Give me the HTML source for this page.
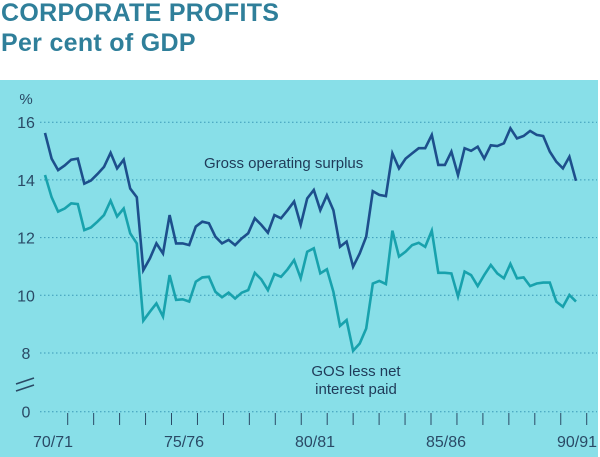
<!DOCTYPE html>
<html><head><meta charset="utf-8"><style>
body{margin:0;width:600px;height:457px;background:#fff;overflow:hidden;font-family:"Liberation Sans",sans-serif;}
.t{position:absolute;left:1px;color:#2f7f9a;font-weight:bold;font-size:25px;letter-spacing:0.3px;white-space:nowrap}
</style></head><body>
<div class="t" style="top:-1px">CORPORATE PROFITS</div>
<div class="t" style="top:29px">Per cent of GDP</div>
<svg id="c" width="600" height="457" style="position:absolute;left:0;top:0"></svg>
<script>
const yTicks=[16,14,12,10,8];
const xLabels=["70/71","75/76","80/81","85/86","90/91"];
const gos=[15.63,14.74,14.34,14.5,14.7,14.74,13.87,13.98,14.2,14.45,14.94,14.4,14.7,13.7,13.4,10.87,11.28,11.8,11.45,12.78,11.8,
11.8,11.74,12.38,12.55,12.5,12.03,11.8,11.92,11.74,11.97,12.15,12.67,12.44,12.17,12.78,12.67,12.95,13.25,12.44,13.36,
13.65,12.95,13.47,12.95,11.68,11.86,10.99,11.45,12.03,13.61,13.48,13.44,14.92,14.4,14.74,14.92,15.1,15.1,15.56,
14.52,14.52,14.98,14.17,15.1,15.01,15.15,14.74,15.2,15.17,15.27,15.79,15.44,15.52,15.7,15.56,15.52,14.98,14.63,14.4,14.8,13.97];
const gosNet=[14.17,13.4,12.9,13.01,13.19,13.16,12.26,12.35,12.55,12.78,13.28,12.73,13.01,12.15,11.8,9.12,9.43,9.72,9.26,10.7,9.84,
9.86,9.78,10.47,10.62,10.64,10.12,9.93,10.09,9.89,10.09,10.18,10.78,10.55,10.18,10.74,10.64,10.9,11.22,10.59,11.51,
11.63,10.76,10.9,10.12,8.94,9.14,8.08,8.33,8.85,10.41,10.5,10.39,12.24,11.34,11.51,11.74,11.82,11.68,12.24,
10.78,10.78,10.76,9.95,10.82,10.7,10.32,10.7,11.05,10.76,10.59,11.09,10.59,10.62,10.32,10.41,10.44,10.44,9.78,9.6,10.01,9.78];
const NS='http://www.w3.org/2000/svg';
const svg=document.getElementById('c');
function y(v){return 353-(v-8)*28.85;}
function xi(i,n){return 45+i*(531/(n-1));}
function mk(t,a,p){const e=document.createElementNS(NS,t);for(const k in a)e.setAttribute(k,a[k]);(p||svg).appendChild(e);return e;}
const bg=mk('rect',{x:0,y:80,width:598,height:377,fill:'#88dfe8'});


const grid=[...yTicks,0];
grid.forEach(v=>{
  const yy=v===0?411.7:y(v);
  const g=mk('line',{x1:40,x2:597,y1:yy,y2:yy,stroke:'#3a9ab8','stroke-width':1,'stroke-dasharray':'1.5,2.5'});
  
  
  const t=mk('text',{x:26,y:yy+6,'text-anchor':'middle','font-size':16,fill:'#2a4a66','font-family':'Liberation Sans'});
  t.textContent=v;
  
  
});
const pc=mk('text',{x:26,y:104,'text-anchor':'middle','font-size':15,fill:'#2a4a66'});pc.textContent='%';


const br=mk('path',{d:'M16 384 L34 378 M16 391 L34 385',stroke:'#2a4a66','stroke-width':1.6,fill:'none'});


for(let k=0;k<=20;k++){
  const xx=67.7+k*25.95;
  const tk=mk('line',{x1:xx,x2:xx,y1:413,y2:425,stroke:'#2a4a66','stroke-width':1});
  
  
}
xLabels.forEach((l,i)=>{
  const t=mk('text',{x:53+i*131,y:447,'text-anchor':'middle','font-size':16,fill:'#2a4a66'});
  t.textContent=l;
  
  
});
function line(d,col,name){
  const p=mk('polyline',{points:d.map((v,i)=>xi(i,d.length).toFixed(1)+','+y(v).toFixed(1)).join(' '),fill:'none',stroke:col,'stroke-width':2.6,'stroke-linejoin':'miter'});
  
  
}
line(gosNet,'#18a2ad','line-gos-less-interest');
line(gos,'#1d4f8c','line-gross-operating-surplus');
const l1=mk('text',{x:204,y:168,'font-size':15,fill:'#1f3a58'});l1.textContent='Gross operating surplus';


const l2=mk('text',{x:356,y:376,'text-anchor':'middle','font-size':15,fill:'#1f3a58'});l2.textContent='GOS less net';


const l3=mk('text',{x:356,y:394,'text-anchor':'middle','font-size':15,fill:'#1f3a58'});l3.textContent='interest paid';


</script>
</body></html>
